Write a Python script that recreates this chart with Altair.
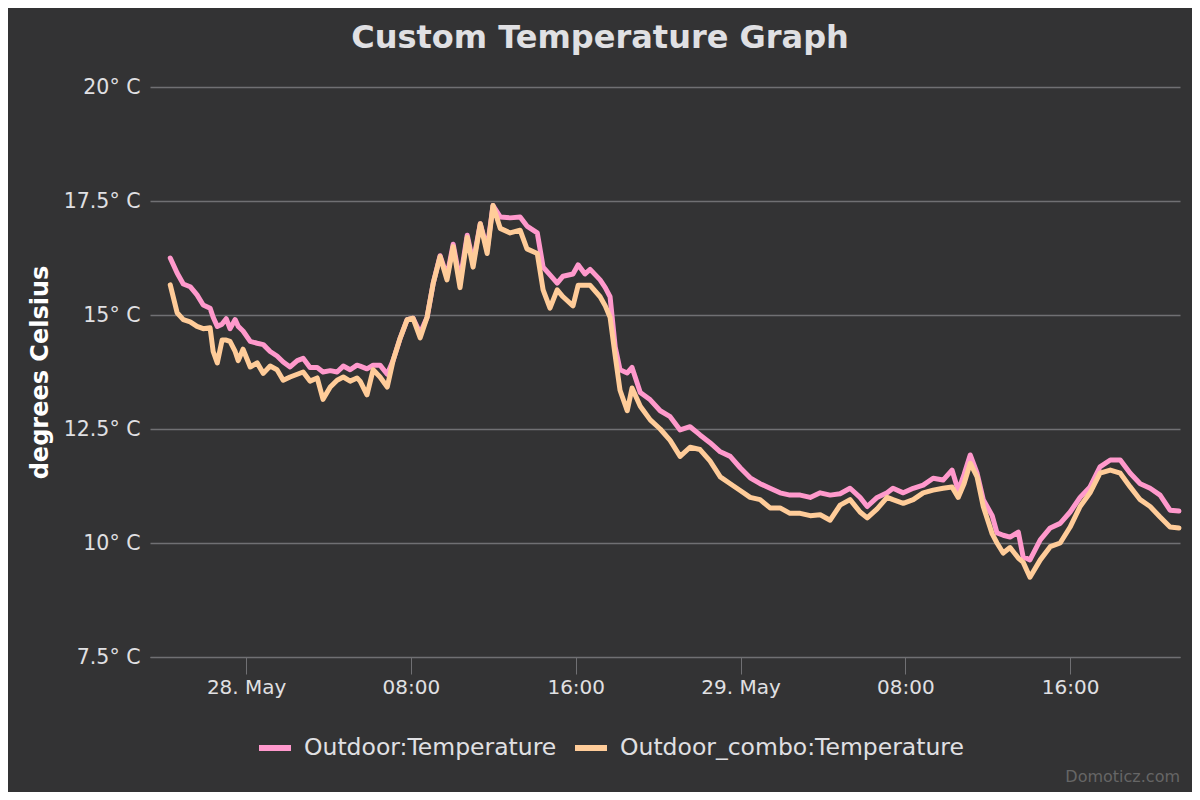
import altair as alt
import pandas as pd

TITLE = "Custom Temperature Graph"
Y_TITLE = "degrees Celsius"
CREDIT = "Domoticz.com"
SERIES = ["Outdoor:Temperature", "Outdoor_combo:Temperature"]
COLORS = ["#ff99cc", "#ffcc99"]

# minutes relative to 28 May 00:00
minutes = [-221, -201, -183, -163, -143, -125, -105, -96, -84, -70, -58, -47, -32, -23, -9,
           12, 32, 50, 70, 90, 108, 128, 149, 166, 186, 207, 224, 245, 265, 283, 303, 323,
           332, 352, 370, 390, 411, 428, 449, 469, 486, 507, 527, 545, 565, 585, 603, 623,
           644, 661, 682, 702, 719, 740, 769, 798, 818, 848, 865, 885, 906, 923, 952, 967,
           987, 1002, 1031, 1046, 1060, 1075, 1089, 1110, 1124, 1148, 1177, 1206, 1235, 1264,
           1293, 1322, 1351, 1381, 1410, 1439, 1468, 1497, 1526, 1555, 1584, 1614, 1643, 1672,
           1701, 1730, 1759, 1788, 1809, 1838, 1867, 1884, 1914, 1943, 1972, 2001, 2030, 2056,
           2074, 2091, 2109, 2129, 2147, 2173, 2187, 2205, 2225, 2249, 2263, 2283, 2313, 2342,
           2371, 2400, 2429, 2458, 2487, 2517, 2546, 2575, 2604, 2633, 2662, 2691, 2717]

outdoor = [16.25, 15.92, 15.68, 15.62, 15.44, 15.22, 15.15, 14.95, 14.75, 14.80, 14.92, 14.70,
           14.90, 14.75, 14.65, 14.42, 14.38, 14.35, 14.20, 14.10, 13.97, 13.86, 14.00, 14.05,
           13.85, 13.85, 13.75, 13.78, 13.75, 13.88, 13.80, 13.90, 13.88, 13.82, 13.90, 13.90,
           13.70, 14.00, 14.50, 14.90, 14.93, 14.60, 14.95, 15.70, 16.30, 15.85, 16.55, 15.75,
           16.75, 16.15, 17.00, 16.45, 17.40, 17.15, 17.13, 17.15, 16.95, 16.80, 16.05, 15.88,
           15.70, 15.85, 15.90, 16.10, 15.90, 16.00, 15.77, 15.60, 15.40, 14.30, 13.80, 13.73,
           13.85, 13.30, 13.14, 12.90, 12.77, 12.48, 12.55, 12.37, 12.20, 12.00, 11.90, 11.65,
           11.43, 11.30, 11.20, 11.10, 11.05, 11.05, 11.00, 11.10, 11.05, 11.08, 11.20, 11.00,
           10.80, 11.00, 11.10, 11.20, 11.10, 11.20, 11.27, 11.42, 11.38, 11.60, 11.15, 11.50,
           11.93, 11.53, 10.95, 10.60, 10.22, 10.17, 10.13, 10.24, 9.70, 9.63, 10.07, 10.33,
           10.43, 10.68, 11.00, 11.23, 11.67, 11.82, 11.82, 11.53, 11.30, 11.20, 11.05, 10.72,
           10.70]

combo = [15.66, 15.05, 14.90, 14.85, 14.75, 14.70, 14.72, 14.20, 13.95, 14.45, 14.45, 14.42,
         14.20, 14.00, 14.25, 13.86, 13.95, 13.72, 13.88, 13.80, 13.57, 13.64, 13.70, 13.75,
         13.55, 13.62, 13.15, 13.42, 13.57, 13.64, 13.55, 13.62, 13.55, 13.25, 13.80, 13.64,
         13.42, 14.00, 14.50, 14.90, 14.93, 14.50, 14.95, 15.70, 16.28, 15.77, 16.50, 15.60,
         16.70, 16.05, 17.00, 16.35, 17.40, 16.90, 16.80, 16.86, 16.45, 16.35, 15.55, 15.15,
         15.55, 15.40, 15.20, 15.65, 15.65, 15.65, 15.40, 15.20, 14.95, 14.10, 13.35, 12.90,
         13.40, 13.00, 12.70, 12.50, 12.25, 11.90, 12.10, 12.05, 11.80, 11.45, 11.30, 11.15,
         11.00, 10.95, 10.77, 10.77, 10.65, 10.65, 10.60, 10.62, 10.50, 10.83, 10.95, 10.68,
         10.55, 10.75, 11.00, 10.95, 10.87, 10.95, 11.10, 11.16, 11.20, 11.23, 11.00, 11.30,
         11.75, 11.45, 10.80, 10.20, 10.00, 9.78, 9.90, 9.67, 9.58, 9.25, 9.63, 9.92,
         10.00, 10.35, 10.80, 11.10, 11.53, 11.60, 11.53, 11.23, 10.95, 10.80, 10.57, 10.35,
         10.33]

x_domain = [-280, 2720]
x_ticks = [0, 480, 960, 1440, 1920, 2400]
y_ticks = [7.5, 10, 12.5, 15, 17.5, 20]

df = pd.concat([
    pd.DataFrame({"minute": minutes, "temp": outdoor, "series": SERIES[0]}),
    pd.DataFrame({"minute": minutes, "temp": combo, "series": SERIES[1]}),
])

FONT = "DejaVu Sans"
TXT = "#E0E0E3"
GRID = "#707073"

lines = alt.Chart(df).mark_line(strokeWidth=5, strokeJoin="round", strokeCap="round").encode(
    x=alt.X("minute:Q",
            scale=alt.Scale(domain=x_domain, nice=False, zero=False),
            axis=alt.Axis(values=x_ticks, title=None, grid=False, domain=True,
                          domainColor=GRID, domainWidth=1, ticks=True, tickColor=GRID,
                          tickSize=17, tickWidth=1, labelPadding=3, labelFont=FONT,
                          labelFontSize=20, labelColor=TXT,
                          labelExpr="datum.value == 0 ? '28. May' : (datum.value == 1440 ? '29. May' : (datum.value % 1440 == 480 ? '08:00' : '16:00'))")),
    y=alt.Y("temp:Q",
            scale=alt.Scale(domain=[7.5, 20], nice=False, zero=False),
            axis=alt.Axis(values=y_ticks, title=Y_TITLE, grid=True, gridColor=GRID,
                          gridWidth=1.5, domain=False, ticks=False, labelPadding=10,
                          labelFont=FONT, labelFontSize=20.5, labelColor=TXT,
                          labelExpr="datum.value + '° C'",
                          titleFont=FONT, titleFontSize=24, titleFontWeight="bold",
                          titleColor="#FFFFFF", titleAngle=-90, titleX=-110, titleY=285,
                          titleAlign="center", titleBaseline="middle")),
    color=alt.Color("series:N",
                    scale=alt.Scale(domain=SERIES, range=COLORS),
                    legend=alt.Legend(title=None, orient="none", legendX=106, legendY=642,
                                      direction="horizontal", symbolType="stroke",
                                      symbolSize=1024, symbolStrokeWidth=6,
                                      labelFont=FONT, labelFontSize=23.5, labelColor=TXT,
                                      labelOffset=10, columnPadding=6, labelLimit=600)),
)

credit = alt.Chart(pd.DataFrame({"t": [CREDIT]})).mark_text(
    font=FONT, fontSize=16, color="#666666", align="right", baseline="middle"
).encode(text="t:N", x=alt.value(1030), y=alt.value(690))

chart = alt.layer(lines, credit).properties(
    width=1030, height=570,
    title=alt.Title(TITLE, font=FONT, fontSize=32, fontWeight="bold", color=TXT,
                    anchor="middle", dx=-65, offset=22),
    autosize=alt.AutoSizeParams(type="none"),
    padding={"left": 142, "top": 79, "right": 12, "bottom": 135},
).configure(background="#333334").configure_view(stroke=None)

chart.save("out.html", embed_options={"renderer": "svg", "actions": False})
